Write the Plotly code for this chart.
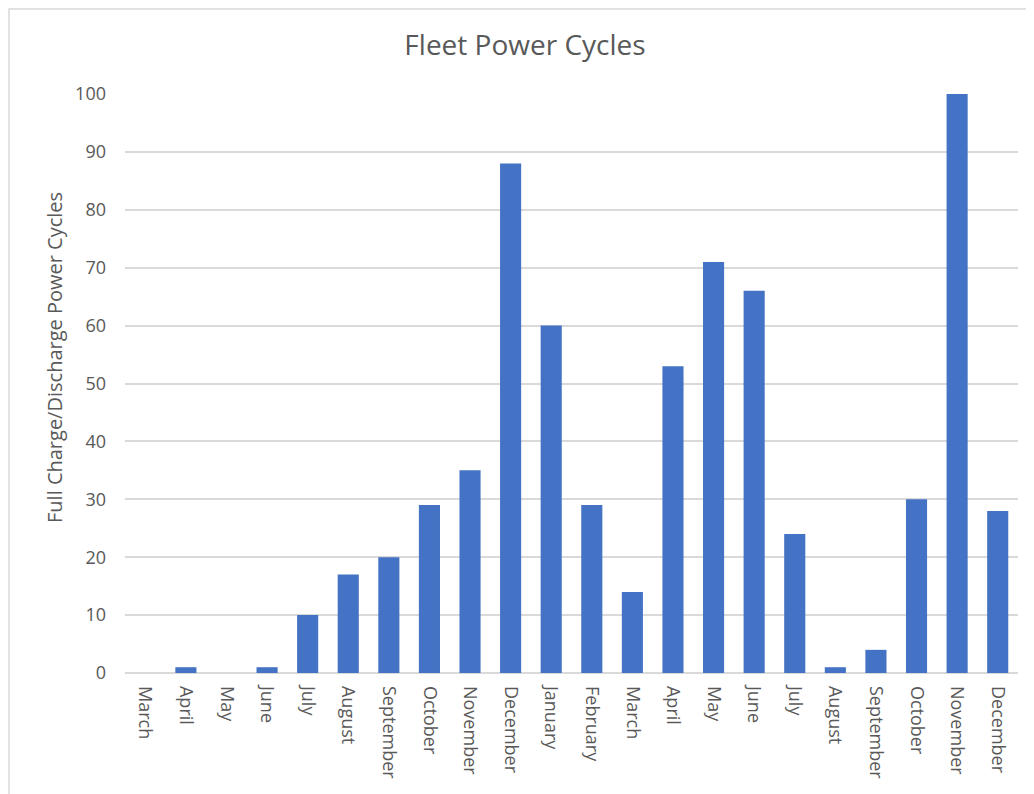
import plotly.graph_objects as go

months = ["March", "April", "May", "June", "July", "August", "September", "October",
          "November", "December", "January", "February", "March", "April", "May", "June",
          "July", "August", "September", "October", "November", "December"]
cycles = [0, 1, 0, 1, 10, 17, 20, 29, 35, 88, 60, 29, 14, 53, 71, 66, 24, 1, 4, 30, 100, 28]
y_ticks = list(range(0, 101, 10))

positions = list(range(len(months)))

# page has an 8px body margin, so the figure is slightly smaller than the window
OFF = 8
W, H = 1026, 786
L, R, T, B = 125 - OFF, 16, 94 - OFF, 121
pw, ph = W - L - R, H - T - B

fig = go.Figure(go.Bar(
    x=positions, y=cycles,
    marker=dict(color="#4472C4", line=dict(width=0)),
    width=0.52,
))

fig.update_layout(
    width=W, height=H,
    margin=dict(l=L, r=R, t=T, b=B),
    paper_bgcolor="white", plot_bgcolor="white",
    font=dict(family="Open Sans, Liberation Sans, sans-serif", color="#595959", size=18),
    title=dict(text="Fleet Power Cycles", x=(525 - OFF - L) / pw, xref="paper", xanchor="center",
               y=1 - (45 - OFF) / H, yanchor="middle",
               font=dict(size=28, color="#595959")),
    showlegend=False,
    xaxis=dict(
        tickmode="array", tickvals=positions, ticktext=months,
        tickangle=90, range=[-0.5, len(months) - 0.5],
        showgrid=False, zeroline=False, showline=False, ticks="",
        ticklabelstandoff=12,
        tickfont=dict(size=18, color="#595959"),
    ),
    yaxis=dict(
        range=[0, 100], tickvals=y_ticks,
        showgrid=True, gridcolor="#D9D9D9", gridwidth=1.5,
        zeroline=True, zerolinecolor="#D9D9D9", zerolinewidth=1.5,
        showline=False, ticks="", ticklabelstandoff=18,
        tickfont=dict(size=18, color="#595959"),
    ),
    annotations=[dict(
        text="Full Charge/Discharge Power Cycles", textangle=-90,
        xref="paper", yref="paper",
        x=(54 - OFF - L) / pw, y=1 - (358 - OFF - T) / ph,
        xanchor="center", yanchor="middle", showarrow=False,
        font=dict(size=20, color="#595959"),
    )],
    shapes=[dict(
        type="rect", xref="paper", yref="paper",
        x0=(1 - L) / pw, x1=(W + 20 - L) / pw,
        y0=-(H + 20 - T - ph) / ph, y1=1 + (T - 1) / ph,
        line=dict(color="#D9D9D9", width=1.5), fillcolor="rgba(0,0,0,0)", layer="below",
    )],
)

fig.write_html("out.html")
